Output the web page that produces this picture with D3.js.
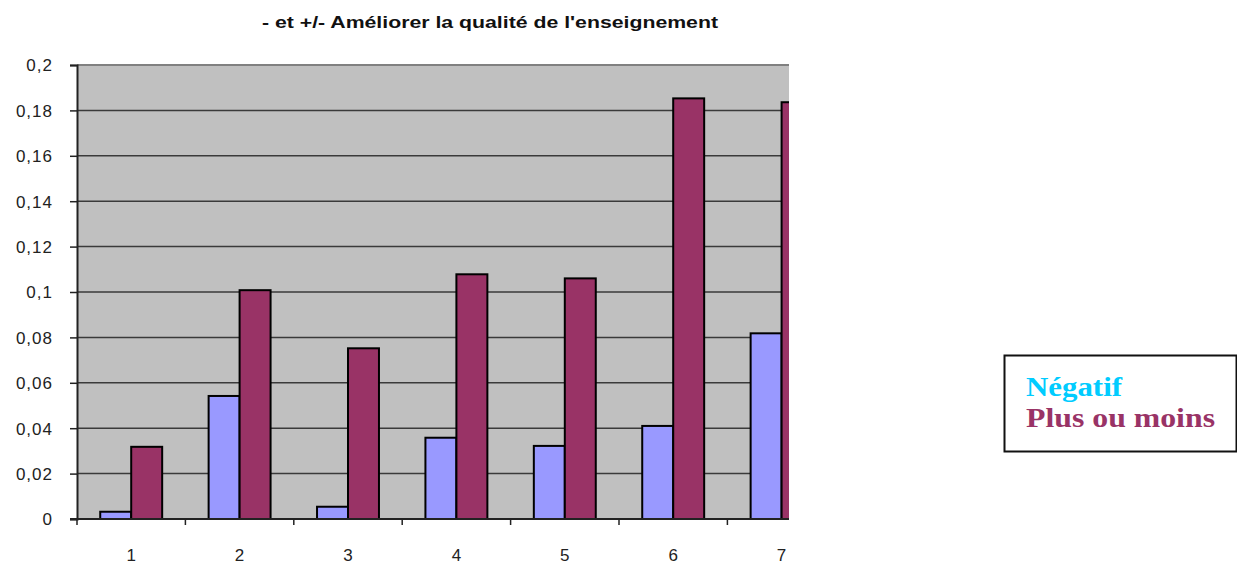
<!DOCTYPE html>
<html><head><meta charset="utf-8">
<script src="https://cdn.jsdelivr.net/npm/d3@7"></script>
<style>body{margin:0;background:#fff}svg{display:block}</style>
</head><body>
<svg id="c" width="1237" height="563"></svg>
<script>
const categories = ["1","2","3","4","5","6","7"];
const negatif = [0.0032, 0.0542, 0.0054, 0.0358, 0.0322, 0.0410, 0.0818];
const plusOuMoins = [0.0318, 0.1008, 0.0752, 0.1078, 0.1060, 0.1853, 0.1836];
const yTicks = [0, 0.02, 0.04, 0.06, 0.08, 0.1, 0.12, 0.14, 0.16, 0.18, 0.2];
const seriesNames = ["Négatif", "Plus ou moins"];
const titleText = "- et +/- Améliorer la qualité de l'enseignement";

(function(){
const svg = d3.select("#c");
const pLeft = 77, pTop = 65, pBottom = 519, clipRight = 789, band = 108.4;
const x = d3.scaleBand().domain(categories).range([pLeft, pLeft + band * categories.length]).padding(0);
const y = d3.scaleLinear().domain([0, 0.2]).range([pBottom, pTop]);

svg.append("defs").append("clipPath").attr("id","pc")
  .append("rect").attr("x", pLeft - 10).attr("y", pTop - 5).attr("width", clipRight - pLeft + 10).attr("height", pBottom - pTop + 12);

const g = svg.append("g").attr("clip-path","url(#pc)");
g.append("rect").attr("x", pLeft).attr("y", pTop).attr("width", x.range()[1]-pLeft).attr("height", pBottom-pTop).attr("fill","#c0c0c0");
g.append("line").attr("x1", pLeft).attr("x2", x.range()[1]).attr("y1", pTop).attr("y2", pTop).attr("stroke","#808080").attr("stroke-width",2);
g.selectAll(".grid").data(yTicks.filter(d=>d>0 && d<0.2)).enter().append("line")
  .attr("x1", pLeft).attr("x2", x.range()[1]).attr("y1", d=>y(d)).attr("y2", d=>y(d))
  .attr("stroke","#3a3a3a").attr("stroke-width",1.5);

const w = x.bandwidth() / 3.5;
const off = 0.75 * w;
const data = categories.map((c,i)=>({c, a:negatif[i], b:plusOuMoins[i]}));
g.selectAll(".ba").data(data).enter().append("rect")
  .attr("x", d=>x(d.c)+off).attr("y", d=>y(d.a)).attr("width", w).attr("height", d=>y(0)-y(d.a))
  .attr("fill","#9999ff").attr("stroke","#000").attr("stroke-width",2);
g.selectAll(".bb").data(data).enter().append("rect")
  .attr("x", d=>x(d.c)+off+w).attr("y", d=>y(d.b)).attr("width", w).attr("height", d=>y(0)-y(d.b))
  .attr("fill","#993366").attr("stroke","#000").attr("stroke-width",2);

const xa = g.append("g").attr("transform",`translate(0,${pBottom})`);
xa.append("line").attr("x1", pLeft-7).attr("x2", x.range()[1]).attr("stroke","#222").attr("stroke-width",2);
xa.selectAll(".t").data(categories.concat(["end"])).enter().append("line")
  .attr("x1",(d,i)=>pLeft+i*band).attr("x2",(d,i)=>pLeft+i*band).attr("y1",0).attr("y2",6)
  .attr("stroke","#222").attr("stroke-width",1.5);

svg.selectAll(".xl").data(categories).enter().append("text")
  .attr("x", d=>x(d)+x.bandwidth()/2).attr("y", 561)
  .attr("text-anchor","middle").attr("font-family","Liberation Sans, Arial, sans-serif")
  .attr("font-size",17).attr("fill","#222").text(d=>d);

const yAxis = d3.axisLeft(y).tickValues(yTicks).tickSize(7).tickPadding(17)
  .tickFormat(d => String(d).replace(".", ","));
const ya = svg.append("g").attr("transform",`translate(${pLeft},0)`).call(yAxis);
ya.select(".domain").attr("stroke","#222").attr("stroke-width",2);
ya.selectAll(".tick line").attr("stroke","#222").attr("stroke-width",1.5);
ya.selectAll(".tick text").attr("font-family","Liberation Sans, Arial, sans-serif")
  .attr("font-size",17).attr("fill","#222").attr("letter-spacing","1px").attr("dy","0.35em");

svg.append("text").attr("x", 490).attr("y", 28).attr("text-anchor","middle")
  .attr("font-family","Liberation Sans, Arial, sans-serif").attr("font-weight","bold")
  .attr("font-size",16).attr("fill","#111")
  .attr("textLength",456).attr("lengthAdjust","spacingAndGlyphs").text(titleText);

svg.append("rect").attr("x",1004.5).attr("y",355.5).attr("width",232).attr("height",96)
  .attr("fill","#fff").attr("stroke","#111").attr("stroke-width",2);
const legColors = ["#00ccff","#993366"];
const legLens = [96, 189];
svg.selectAll(".lg").data(seriesNames).enter().append("text")
  .attr("x",1026).attr("y",(d,i)=>396+i*31)
  .attr("font-family","Liberation Serif, Times New Roman, serif").attr("font-weight","bold")
  .attr("font-size",28).attr("fill",(d,i)=>legColors[i])
  .attr("textLength",(d,i)=>legLens[i]).attr("lengthAdjust","spacingAndGlyphs")
  .text(d=>d);
})();
</script>
</body></html>
